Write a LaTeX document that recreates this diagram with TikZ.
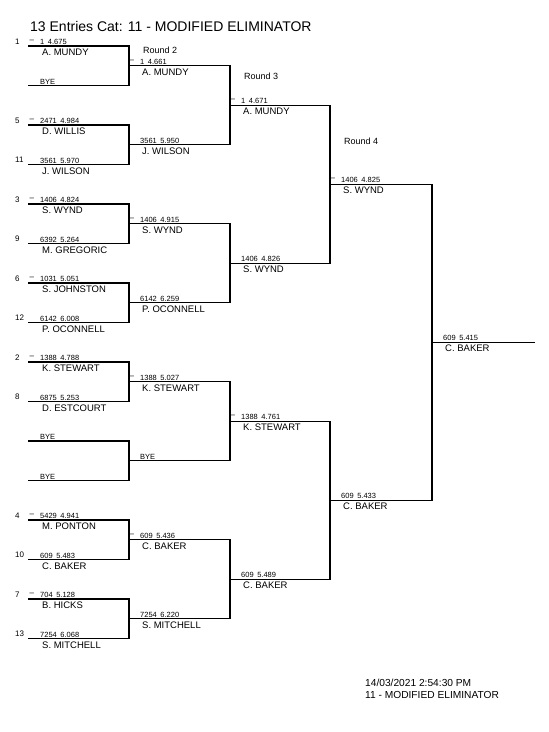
\documentclass[tikz,border=0pt]{standalone}
\usepackage{fontspec}
\setmainfont{Liberation Sans}
\usetikzlibrary{calc, positioning}

\newcommand\scorefont{\fontsize{7.5}{8}\selectfont\spaceskip=3.6pt\relax}

\begin{document}
\begin{tikzpicture}[
    x=1pt, y=-1pt,
    font=\fontsize{9.5}{11}\selectfont,
    bline/.style={line width=1.1pt, draw=black, line cap=rect},
    score/.style={anchor=base west, inner sep=0pt, font=\scorefont},
    entrant/.style={anchor=base west, inner sep=0pt, font=\fontsize{9.5}{10}\selectfont},
    seedno/.style={anchor=base west, inner sep=0pt, font=\fontsize{8}{9}\selectfont},
    roundlbl/.style={anchor=base west, inner sep=0pt, font=\fontsize{9}{10}\selectfont},
    marker/.style={anchor=base west, inner sep=0pt, font=\fontsize{8}{9}\selectfont},
    footer/.style={anchor=base west, inner sep=0pt, font=\fontsize{10.2}{12}\selectfont}
]

    \useasboundingbox (0, 0) rectangle (549, 732);

    % =========================================================================
    % TITLE
    % =========================================================================
    \node [anchor=base west, inner sep=0pt, font=\fontsize{14}{16}\selectfont] (title) at (30, 31) {13 Entries Cat: 11 - MODIFIED ELIMINATOR};

    \node [roundlbl] (round2) at (143, 53.5) {Round 2};
    \node [roundlbl] (round3) at (244, 79.5) {Round 3};
    \node [roundlbl] (round4) at (344, 144.5) {Round 4};

    % =========================================================================
    % BRACKET LINES (one per slot, rounds 1 to 5)
    % =========================================================================
    \foreach \r/\xa/\xb/\n in {1/29/129/16, 2/129/230/8, 3/230/330/4, 4/330/432/2, 5/432/534/1} {
        \foreach \k in {1,...,\n} {
            \pgfmathsetmacro\yy{46+39.5*(2^(\r-1)*(\k-1)+(2^(\r-1)-1)/2)}
            \coordinate (r\r s\k a) at (\xa, \yy);
            \coordinate (r\r s\k b) at (\xb, \yy);
            \draw [bline] (r\r s\k a) -- (r\r s\k b);
        }
    }

    % joins between the two slots of each pair
    \foreach \r/\n in {1/8, 2/4, 3/2, 4/1} {
        \foreach \m in {1,...,\n} {
            \pgfmathtruncatemacro\ka{2*\m-1}
            \pgfmathtruncatemacro\kb{2*\m}
            \draw [bline] (r\r s\ka b) -- (r\r s\kb b);
        }
    }

    % =========================================================================
    % TIMES AND NAMES
    % =========================================================================
    \foreach \r/\k/\sc/\nm in {
        1/1/{1 4.675}/{A. MUNDY}, 1/3/{2471 4.984}/{D. WILLIS}, 1/4/{3561 5.970}/{J. WILSON},
        1/5/{1406 4.824}/{S. WYND}, 1/6/{6392 5.264}/{M. GREGORIC}, 1/7/{1031 5.051}/{S. JOHNSTON},
        1/8/{6142 6.008}/{P. OCONNELL}, 1/9/{1388 4.788}/{K. STEWART}, 1/10/{6875 5.253}/{D. ESTCOURT},
        1/13/{5429 4.941}/{M. PONTON}, 1/14/{609 5.483}/{C. BAKER}, 1/15/{704 5.128}/{B. HICKS},
        1/16/{7254 6.068}/{S. MITCHELL},
        2/1/{1 4.661}/{A. MUNDY}, 2/2/{3561 5.950}/{J. WILSON}, 2/3/{1406 4.915}/{S. WYND},
        2/4/{6142 6.259}/{P. OCONNELL}, 2/5/{1388 5.027}/{K. STEWART}, 2/7/{609 5.436}/{C. BAKER},
        2/8/{7254 6.220}/{S. MITCHELL},
        3/1/{1 4.671}/{A. MUNDY}, 3/2/{1406 4.826}/{S. WYND}, 3/3/{1388 4.761}/{K. STEWART},
        3/4/{609 5.489}/{C. BAKER},
        4/1/{1406 4.825}/{S. WYND}, 4/2/{609 5.433}/{C. BAKER},
        5/1/{609 5.415}/{C. BAKER}
    } {
        \node [score] (sc\r-\k) at ([xshift=11pt, yshift=1.5pt]r\r s\k a) {\sc};
        \node [entrant] (nm\r-\k) at ([xshift=13pt, yshift=-9.5pt]r\r s\k a) {\nm};
    }

    % byes
    \foreach \r/\k in {1/2, 1/11, 1/12, 2/6} {
        \node [score] (bye\r-\k) at ([xshift=11pt, yshift=1.5pt]r\r s\k a) {BYE};
    }

    % seed numbers
    \foreach \k/\s in {1/1, 3/5, 4/11, 5/3, 6/9, 7/6, 8/12, 9/2, 10/8, 13/4, 14/10, 15/7, 16/13} {
        \node [seedno] (seed\s) at ([xshift=-14pt, yshift=2pt]r1s\k a) {\s};
    }

    % small marks on the upper slots
    \foreach \r/\k in {1/1, 1/3, 1/5, 1/7, 1/9, 1/13, 1/15, 2/1, 2/3, 2/5, 2/7, 3/1, 3/3, 4/1} {
        \node [marker] (mk\r-\k) at ([xshift=0.5pt, yshift=3.5pt]r\r s\k a) {--};
    }

    % =========================================================================
    % FOOTER
    % =========================================================================
    \node [footer] (stamp) at (365, 686) {14/03/2021 2:54:30 PM};
    \node [footer] (category) at (365, 698) {11 - MODIFIED ELIMINATOR};

\end{tikzpicture}
\end{document}
